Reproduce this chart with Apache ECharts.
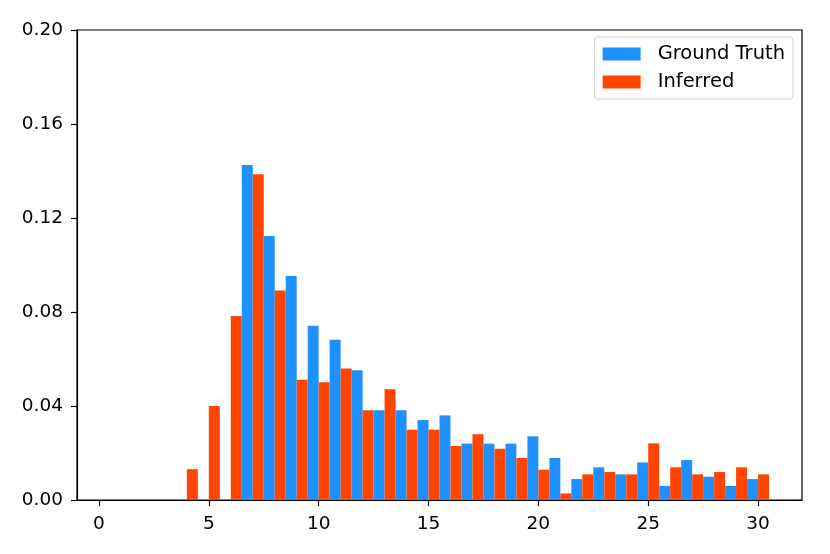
<!DOCTYPE html>
<html>
<head>
<meta charset="utf-8">
<script src="https://cdn.jsdelivr.net/npm/echarts@6/dist/echarts.min.js"></script>
<style>html,body{margin:0;padding:0;background:#fff;}#c{width:830px;height:554px;}</style>
</head>
<body>
<div id="c"></div>
<script>
// bin centers 1..30
var bins = [1,2,3,4,5,6,7,8,9,10,11,12,13,14,15,16,17,18,19,20,21,22,23,24,25,26,27,28,29,30];
var groundTruth = [0,0,0,0,0,0,0.1426,0.1123,0.0953,0.0742,0.0682,0.0552,0.0382,0.0382,0.0340,0.0360,0.0240,0.0240,0.0240,0.0271,0.0179,0.0089,0.0139,0.0109,0.0160,0.0060,0.0170,0.0099,0.0060,0.0089];
var inferred    = [0,0,0,0.0131,0.0400,0.0783,0.1386,0.0892,0.0512,0.0501,0.0560,0.0382,0.0471,0.0299,0.0299,0.0230,0.0280,0.0218,0.0179,0.0129,0.0028,0.0109,0.0119,0.0109,0.0241,0.0139,0.0109,0.0119,0.0139,0.0109];
var xTicks = [0,5,10,15,20,25,30];
var yTicks = [0,0.04,0.08,0.12,0.16,0.20];

function makeData(vals){ return bins.map(function(b,i){ return [b, vals[i]]; }); }

function renderer(offset){
  return function(params, api){
    var c = api.value(0), v = api.value(1);
    var p0 = api.coord([c + offset, v]);
    var p1 = api.coord([c + offset + 0.5, 0]);
    return {
      type: 'rect',
      shape: {x: p0[0], y: p0[1], width: p1[0]-p0[0], height: p1[1]-p0[1]},
      style: {fill: api.visual('color')}
    };
  };
}

var font = 'DejaVu Sans';
var chart = echarts.init(document.getElementById('c'), null, {renderer:'canvas'});
chart.setOption({
  animation: false,
  backgroundColor: '#fff',
  grid: {left: 77, right: 28, top: 30, bottom: 54, show: true, borderColor: '#000', borderWidth: 1.2, backgroundColor: 'transparent'},
  legend: {
    right: 37, top: 37,
    orient: 'vertical',
    padding: [7, 8, 7, 8],
    itemWidth: 38, itemHeight: 13, itemGap: 8,
    backgroundColor: '#fff',
    borderColor: '#d0d0d0', borderWidth: 1, borderRadius: 3,
    textStyle: {fontFamily: font, fontSize: 19.5, color: '#000', padding: [0,0,0,12]},
    data: [{name:'Ground Truth', icon:'rect'}, {name:'Inferred', icon:'rect'}]
  },
  xAxis: {
    type: 'value', min: -1, max: 32,
    axisLine: {show: true, onZero: false, lineStyle: {color:'#000', width: 1.2}},
    axisTick: {show: true, length: 6, lineStyle: {color:'#000', width: 1.2}, customValues: xTicks},
    axisLabel: {fontFamily: font, fontSize: 18.5, color: '#000', margin: 15, customValues: xTicks},
    splitLine: {show: false}
  },
  yAxis: {
    type: 'value', min: 0, max: 0.2, interval: 0.04,
    axisLine: {show: true, onZero: false, lineStyle: {color:'#000', width: 1.2}},
    axisTick: {show: true, length: 6, lineStyle: {color:'#000', width: 1.2}},
    axisLabel: {fontFamily: font, fontSize: 18.5, color: '#000', margin: 14, formatter: function(v){ return v.toFixed(2); }},
    splitLine: {show: false}
  },
  series: [
    {name: 'Ground Truth', type: 'custom', renderItem: renderer(-0.5), data: makeData(groundTruth), itemStyle: {color: '#1E90FF'}, encode: {x: 0, y: 1}},
    {name: 'Inferred', type: 'custom', renderItem: renderer(0), data: makeData(inferred), itemStyle: {color: '#FF4500'}, encode: {x: 0, y: 1}}
  ]
});
</script>
</body>
</html>
